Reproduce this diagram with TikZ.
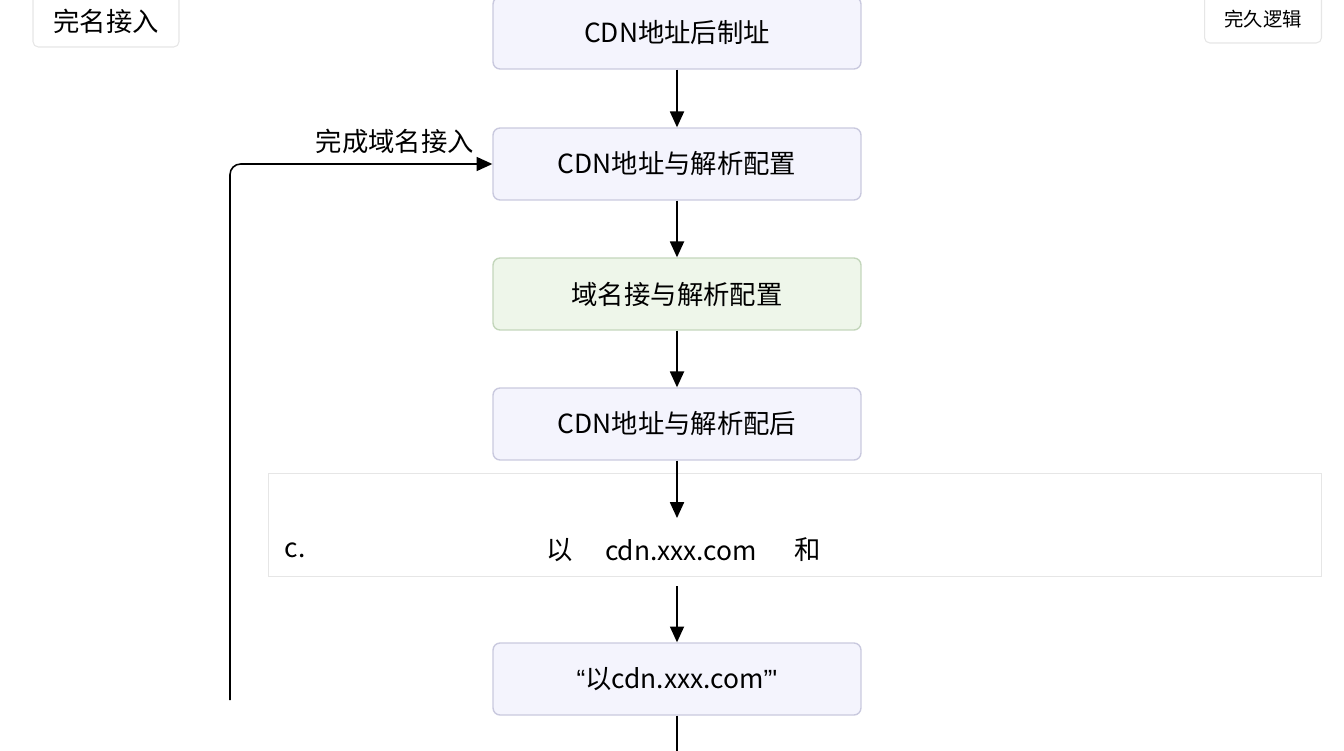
\documentclass[tikz,border=0pt]{standalone}
\usepackage{fontspec}
\setmainfont{Noto Sans CJK SC}
\newfontfamily\latinq{Liberation Sans}
\usetikzlibrary{positioning}
\usetikzlibrary{arrows.meta}
\definecolor{stepfill}{HTML}{F4F4FD}
\definecolor{stepdraw}{HTML}{C9C9DE}
\definecolor{okfill}{HTML}{EEF6EA}
\definecolor{okdraw}{HTML}{C3D6BB}
\definecolor{tagdraw}{HTML}{E6E6E6}
\tikzset{
  flowstep/.style={draw=stepdraw, fill=stepfill, rounded corners=4pt, minimum width=7.36cm, minimum height=1.44cm, font=\fontsize{15}{18}\selectfont, line width=0.8pt},
  okstep/.style={flowstep, draw=okdraw, fill=okfill},
  tag/.style={draw=tagdraw, fill=white, rounded corners=3pt, line width=0.6pt},
  flow/.style={-{Triangle[length=9pt,width=8pt]}, line width=0.9pt},
}
\begin{document}
\begin{tikzpicture}[x=0.02cm, y=-0.02cm]
                    \useasboundingbox (0,0) rectangle (1344,750);
                    \node[tag, minimum width=2.92cm, minimum height=1.04cm, font=\fontsize{15}{18}\selectfont] (leftTag) at (106,21) {完名接入};
                    \node[tag, minimum width=2.34cm, minimum height=0.96cm, font=\fontsize{11}{13}\selectfont] (rightTag) at (1263,19) {完久逻辑};
                    \node[flowstep] (cdnAddr) at (677,33) {CDN地址后制址};
                    \node[flowstep] (cdnParse) at (677,164) {CDN地址与解析配置};
                    \node[okstep] (domainParse) at (677,294) {域名接与解析配置};
                    \node[flowstep] (cdnAfter) at (677,424) {CDN地址与解析配后};
                    \node[draw=tagdraw, fill=white, line width=0.6pt, minimum width=21.08cm, minimum height=2.06cm] (wideBox) at (795,525) {};
                    \node[font=\fontsize{15}{18}\selectfont] (cLabel) at (295,550) {c.};
                    \node[font=\fontsize{15}{18}\selectfont] (yiLabel) at (560,550) {以};
                    \node[font=\fontsize{15}{18}\selectfont] (cdnLabel) at (681,550) {cdn.xxx.com};
                    \node[font=\fontsize{15}{18}\selectfont] (heLabel) at (808,550) {和};
                    \node[flowstep] (cdnQuote) at (677,679) {{\latinq “}以cdn.xxx.com{\latinq ”'}};
                    \node[anchor=south east, font=\fontsize{15}{18}\selectfont] (loopLabel) at (480,160) {完成域名接入};
                    \coordinate (wideIn) at (677,518);
                    \coordinate (wideOut) at (677,586);
                    \coordinate (loopStart) at (230,700);
                    \coordinate (bottomEnd) at (677,752);
                    \draw[flow] (cdnAddr) -- (cdnParse);
                    \draw[flow] (cdnParse) -- (domainParse);
                    \draw[flow] (domainParse) -- (cdnAfter);
                    \draw[flow] (cdnAfter) -- (wideIn);
                    \draw[flow] (wideOut) -- (cdnQuote);
                    \draw[line width=0.9pt] (cdnQuote) -- (bottomEnd);
                    \draw[flow, rounded corners=6pt] (loopStart) |- (cdnParse.west);
               \end{tikzpicture}
\end{document}
